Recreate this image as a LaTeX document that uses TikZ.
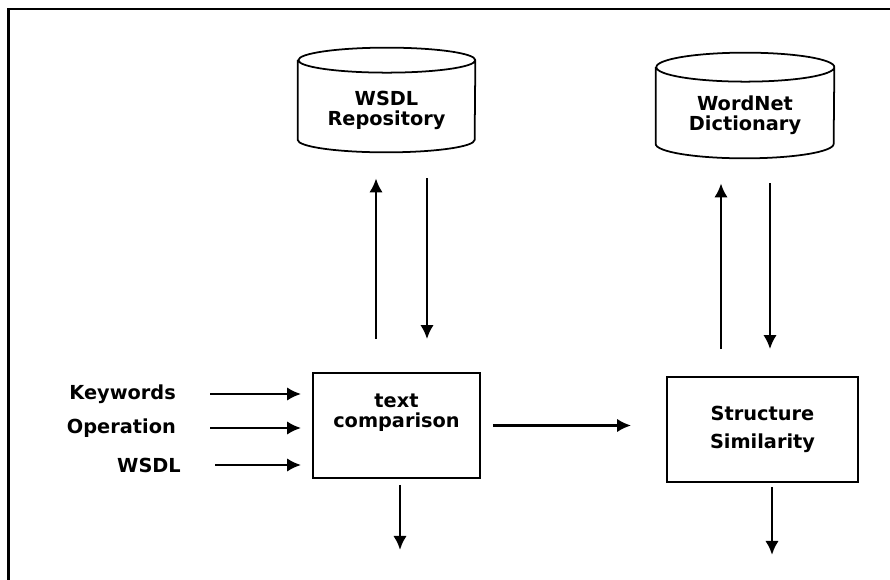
\documentclass[tikz,border=0pt]{standalone}
\usepackage{fontspec}
\setmainfont{DejaVu Sans}
\usetikzlibrary{arrows.meta}
\tikzset{
  store/.style={minimum width=3.54cm, minimum height=2.08cm, inner sep=0pt},
  procbox/.style={draw, line width=1pt, minimum width=3.34cm,
    minimum height=2.1cm, align=center},
  boxtxt/.style={align=center, font=\bfseries\fontsize{11}{11.5}\selectfont},
  inlbl/.style={anchor=east, font=\bfseries\fontsize{11}{12}\selectfont},
  flow/.style={-{Latex[length=2.8mm,width=2.7mm]}, line width=1.6pt}
}
\begin{document}
\begin{tikzpicture}
  \useasboundingbox (0,0) rectangle (17.8,11.6);
  \draw[line width=1.5pt] (0.17,0) |- (17.8,11.42);
  % data stores
  \node[store] (repo) at (7.73,9.6) {};
  \node[store, minimum width=3.56cm, minimum height=2.1cm] (wn) at (14.9,9.49) {};
  \foreach \s/\rx/\ry in {repo/1.77/0.25, wn/1.78/0.29}
    \draw[line width=1pt] ([yshift=-\ry cm]\s.north west) -- ([yshift=\ry cm]\s.south west)
      arc (180:360:\rx cm and \ry cm) -- ([yshift=-\ry cm]\s.north east)
      arc (0:180:\rx cm and \ry cm) arc (180:360:\rx cm and \ry cm);
  \node[boxtxt] (repotext) at ([yshift=0.84cm]repo.south) {WSDL\\Repository};
  \node[boxtxt] (wntext) at ([yshift=0.86cm]wn.south) {WordNet\\Dictionary};
  % processing steps
  \node[procbox] (tc) at (7.93,3.09) {};
  \node[boxtxt] (tctext) at ([yshift=0.25cm]tc.center) {text\\comparison};
  \node[procbox, minimum width=3.82cm, boxtxt, font=\bfseries\fontsize{11}{16}\selectfont] (ss) at (15.25,3.01) {Structure\\Similarity};
  % inputs
  \node[inlbl] (kw) at (3.64,3.72) {Keywords};
  \node[inlbl] (op) at (3.64,3.04) {Operation};
  \node[inlbl] (ws) at (3.74,2.30) {WSDL};
  \foreach \n in {kw,op,ws}
    \draw[flow, shorten <=0.56cm, shorten >=0.22cm] (\n.east) -- (\n.east -| tc.west);
  % store access
  \draw[flow, shorten <=0.66cm, shorten >=0.52cm] ([xshift=-4.1mm]tc.north) -- ([xshift=-4.1mm]tc.north |- repo.south);
  \draw[flow, shorten <=0.52cm, shorten >=0.66cm] ([xshift=6.1mm]tc.north |- repo.south) -- ([xshift=6.1mm]tc.north);
  \draw[flow, shorten <=0.54cm, shorten >=0.5cm] ([xshift=-8.3mm]ss.north) -- ([xshift=-8.3mm]ss.north |- wn.south);
  \draw[flow, shorten <=0.5cm, shorten >=0.54cm] ([xshift=1.5mm]ss.north |- wn.south) -- ([xshift=1.5mm]ss.north);
  % flow between steps
  \draw[flow, shorten <=0.24cm, shorten >=0.7cm] (tc.east) -- (tc.east -| ss.west);
  % outputs
  \coordinate (out1) at (8.0,0.6);
  \coordinate (out2) at (15.44,0.5);
  \draw[flow, shorten <=0.12cm] (tc.south -| out1) -- (out1);
  \draw[flow, shorten <=0.08cm] (ss.south -| out2) -- (out2);
\end{tikzpicture}
\end{document}
